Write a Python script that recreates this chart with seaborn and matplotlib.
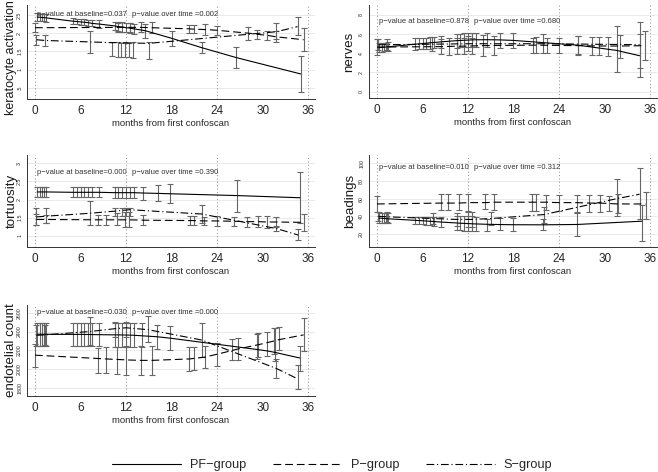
import numpy as np
import pandas as pd
import matplotlib
matplotlib.use("Agg")
import matplotlib.pyplot as plt
import seaborn as sns
from matplotlib.lines import Line2D

# ---------------- data (months, fitted value, CI low, CI high) ----------------
# keratocyte activation
ker_pf_t = [0.3, 0.6, 0.9, 1.2, 1.5, 5.0, 5.5, 6.0, 6.5, 7.0, 7.5, 8.5, 10.5, 11.0, 11.5, 12.0, 12.5, 13.0, 14.5, 18.0, 22.0, 26.5, 35.0]
ker_pf_fit = [2.44, 2.44, 2.43, 2.43, 2.42, 2.33, 2.32, 2.31, 2.30, 2.29, 2.27, 2.25, 2.20, 2.18, 2.17, 2.15, 2.14, 2.12, 2.07, 1.86, 1.60, 1.33, 0.88]
ker_pf_lo = [2.33, 2.34, 2.34, 2.33, 2.32, 2.25, 2.24, 2.23, 2.22, 2.21, 2.19, 2.15, 2.08, 2.05, 2.04, 2.02, 2.00, 1.98, 1.88, 1.66, 1.45, 1.05, 0.38]
ker_pf_hi = [2.55, 2.54, 2.52, 2.53, 2.52, 2.41, 2.40, 2.39, 2.38, 2.37, 2.35, 2.35, 2.32, 2.31, 2.30, 2.28, 2.28, 2.26, 2.26, 2.06, 1.75, 1.61, 1.38]
ker_p_t = [0.0, 11.0, 12.5, 14.0, 15.4, 20.3, 21.0, 22.4, 24.0, 28.1, 29.3, 30.6, 31.8, 35.4]
ker_p_fit = [2.15, 2.16, 2.16, 2.16, 2.15, 2.12, 2.11, 2.10, 2.08, 2.00, 1.97, 1.94, 1.90, 1.82]
ker_p_lo = [2.03, 2.04, 2.03, 2.02, 2.00, 2.01, 2.00, 1.95, 1.95, 1.82, 1.85, 1.80, 1.75, 1.50]
ker_p_hi = [2.27, 2.28, 2.29, 2.30, 2.30, 2.22, 2.22, 2.25, 2.21, 2.17, 2.10, 2.07, 2.06, 2.14]
ker_s_t = [0.2, 1.3, 7.2, 10.1, 10.9, 11.4, 11.9, 12.4, 12.9, 15.0, 31.8, 34.6]
ker_s_fit = [1.82, 1.80, 1.76, 1.74, 1.74, 1.73, 1.73, 1.73, 1.73, 1.72, 2.04, 2.18]
ker_s_lo = [1.68, 1.64, 1.46, 1.36, 1.35, 1.35, 1.35, 1.35, 1.32, 1.30, 1.85, 1.95]
ker_s_hi = [1.96, 1.95, 2.06, 1.75, 1.76, 1.74, 1.75, 1.74, 1.76, 1.75, 2.27, 2.44]

# nerves
ner_pf_t = [0.3, 0.6, 0.9, 1.2, 1.5, 5.0, 5.5, 6.0, 6.5, 7.0, 7.5, 8.5, 10.5, 11.0, 11.5, 12.0, 12.5, 13.0, 14.5, 16.2, 17.9, 26.5, 31.6, 34.6]
ner_pf_fit = [4.60, 4.62, 4.64, 4.66, 4.68, 4.95, 4.98, 5.02, 5.06, 5.10, 5.13, 5.20, 5.32, 5.34, 5.36, 5.38, 5.40, 5.41, 5.42, 5.40, 5.35, 4.85, 4.30, 3.75]
ner_pf_lo = [4.10, 4.15, 4.20, 4.20, 4.25, 4.35, 4.40, 4.45, 4.50, 4.50, 4.55, 4.55, 4.60, 4.62, 4.65, 4.65, 4.68, 4.70, 4.70, 4.60, 4.55, 3.90, 2.10, 1.50]
ner_pf_hi = [5.10, 5.10, 5.10, 5.10, 5.15, 5.55, 5.56, 5.60, 5.62, 5.70, 5.71, 5.85, 6.00, 6.05, 6.07, 6.10, 6.12, 6.12, 6.14, 6.15, 6.15, 5.80, 6.85, 6.00]
ner_p_t = [0.0, 8.5, 9.5, 10.5, 11.5, 12.5, 14.0, 15.4, 20.5, 21.0, 22.4, 24.0, 26.5, 28.3, 29.3, 30.4, 32.0, 35.3]
ner_p_fit = [4.65, 4.70, 4.72, 4.74, 4.75, 4.77, 4.80, 4.82, 4.85, 4.85, 4.84, 4.82, 4.80, 4.78, 4.77, 4.76, 4.76, 4.80]
ner_p_lo = [3.80, 3.90, 3.85, 3.90, 3.90, 3.95, 3.70, 3.85, 4.05, 4.00, 4.05, 4.00, 3.80, 3.85, 3.80, 3.75, 3.55, 3.30]
ner_p_hi = [5.50, 5.50, 5.60, 5.60, 5.60, 5.60, 5.90, 5.80, 5.65, 5.70, 5.60, 5.65, 5.80, 5.70, 5.75, 5.75, 5.95, 6.30]
ner_s_t = [0.2, 1.3, 7.2, 12.0, 21.9, 34.6]
ner_s_fit = [4.90, 4.90, 4.95, 5.00, 5.00, 4.90]
ner_s_lo = [4.30, 4.30, 4.20, 4.20, 4.00, 2.50]
ner_s_hi = [5.50, 5.50, 5.70, 5.80, 6.00, 7.30]

# tortuosity
tor_pf_t = [0.3, 0.6, 0.9, 1.2, 1.5, 5.0, 5.5, 6.0, 6.5, 7.0, 7.5, 8.5, 10.5, 11.0, 11.5, 12.0, 12.5, 13.0, 14.3, 16.2, 17.8, 26.6, 34.9]
tor_pf_fit = [2.21, 2.21, 2.21, 2.21, 2.21, 2.20, 2.20, 2.20, 2.20, 2.20, 2.20, 2.20, 2.19, 2.19, 2.19, 2.19, 2.19, 2.19, 2.18, 2.17, 2.16, 2.11, 2.05]
tor_pf_lo = [2.07, 2.07, 2.07, 2.07, 2.07, 2.07, 2.07, 2.07, 2.07, 2.07, 2.07, 2.07, 2.05, 2.05, 2.05, 2.05, 2.05, 2.05, 2.00, 1.95, 1.90, 1.66, 1.35]
tor_pf_hi = [2.35, 2.35, 2.35, 2.35, 2.35, 2.34, 2.34, 2.34, 2.34, 2.34, 2.34, 2.34, 2.35, 2.35, 2.35, 2.35, 2.35, 2.35, 2.36, 2.40, 2.42, 2.55, 2.75]
tor_p_t = [0.2, 1.4, 8.3, 9.4, 10.8, 11.8, 12.4, 14.3, 20.4, 20.9, 22.3, 24.0, 26.2, 28.0, 29.4, 30.6, 31.7, 35.4]
tor_p_fit = [1.45, 1.45, 1.44, 1.44, 1.44, 1.44, 1.44, 1.43, 1.42, 1.42, 1.41, 1.41, 1.40, 1.39, 1.39, 1.38, 1.38, 1.37]
tor_p_lo = [1.30, 1.35, 1.30, 1.30, 1.30, 1.25, 1.25, 1.30, 1.30, 1.30, 1.30, 1.27, 1.28, 1.25, 1.25, 1.22, 1.25, 1.12]
tor_p_hi = [1.60, 1.56, 1.58, 1.58, 1.62, 1.65, 1.65, 1.58, 1.55, 1.55, 1.53, 1.55, 1.53, 1.53, 1.55, 1.55, 1.52, 1.60]
tor_s_t = [0.2, 1.4, 7.2, 10.5, 11.5, 12.0, 12.5, 22.0, 31.8, 34.7]
tor_s_fit = [1.52, 1.54, 1.62, 1.68, 1.70, 1.71, 1.72, 1.60, 1.20, 1.02]
tor_s_lo = [1.30, 1.35, 1.30, 1.55, 1.55, 1.55, 1.55, 1.35, 1.12, 0.88]
tor_s_hi = [1.76, 1.78, 1.95, 1.76, 1.76, 1.76, 1.76, 1.85, 1.28, 1.18]

# beadings
bea_pf_t = [0.3, 0.6, 0.9, 1.2, 1.5, 5.0, 5.5, 6.0, 6.5, 7.0, 7.5, 8.5, 10.5, 11.0, 11.5, 12.0, 12.5, 13.0, 14.5, 16.2, 17.9, 21.9, 26.4, 34.9]
bea_pf_fit = [38.0, 37.8, 37.6, 37.4, 37.2, 35.5, 35.2, 35.0, 34.7, 34.4, 34.1, 33.5, 32.5, 32.2, 32.0, 31.8, 31.6, 31.4, 31.0, 30.7, 30.5, 30.4, 30.8, 34.5]
bea_pf_lo = [33, 32, 32, 32, 32, 31, 31, 31, 30, 30, 29, 28, 24, 24, 23, 23, 23, 23, 23, 24, 23, 24, 18, 12]
bea_pf_hi = [45, 44, 44, 44, 44, 39, 39, 39, 39, 39, 39, 39, 40, 40, 40, 40, 40, 39, 37, 38, 38, 37, 44, 53]
bea_p_t = [0.0, 8.5, 9.4, 10.8, 12.0, 14.3, 15.4, 20.4, 20.9, 22.3, 24.0, 26.4, 28.0, 29.4, 30.6, 31.7, 35.4]
bea_p_fit = [54.0, 55.0, 55.0, 55.0, 55.5, 55.5, 56.0, 56.0, 56.0, 56.0, 55.5, 55.5, 55.0, 55.0, 54.5, 54.0, 54.0]
bea_p_lo = [45, 47, 47, 47, 46, 48, 47, 46, 46, 47, 46, 45, 45, 45, 46, 44, 37]
bea_p_hi = [63, 65, 65, 65, 65, 65, 65, 65, 65, 64, 64, 64, 64, 64, 63, 65, 68]
bea_s_t = [0.2, 1.3, 7.4, 10.5, 12.0, 12.5, 15.0, 22.0, 31.6, 34.6]
bea_s_fit = [40.0, 39.5, 37.5, 36.5, 36.5, 36.5, 37.5, 42.0, 60.0, 65.0]
bea_s_lo = [35, 34, 31, 29, 28, 28, 30, 33, 40, 37]
bea_s_hi = [45, 45, 44, 44, 45, 45, 45, 51, 82, 95]

# endothelial count
end_pf_t = [0.3, 0.6, 0.9, 1.2, 1.5, 5.0, 5.5, 6.0, 6.5, 7.0, 7.5, 8.5, 10.5, 11.0, 11.5, 12.0, 12.5, 13.0, 14.1, 16.1, 17.8, 29.3, 30.6, 31.6, 34.9]
end_pf_fit = [2372, 2372, 2371, 2371, 2371, 2370, 2370, 2370, 2369, 2369, 2368, 2367, 2365, 2365, 2364, 2363, 2362, 2361, 2355, 2345, 2330, 2210, 2195, 2180, 2120]
end_pf_lo = [2250, 2250, 2250, 2250, 2250, 2250, 2250, 2250, 2250, 2250, 2250, 2250, 2240, 2240, 2240, 2240, 2240, 2240, 2240, 2220, 2200, 2110, 2140, 2090, 1980]
end_pf_hi = [2490, 2490, 2490, 2490, 2490, 2490, 2490, 2490, 2490, 2490, 2490, 2490, 2490, 2490, 2490, 2490, 2490, 2490, 2490, 2470, 2460, 2370, 2400, 2440, 2250]
end_p_t = [0.0, 8.3, 9.4, 10.8, 12.0, 14.0, 15.4, 20.3, 20.9, 22.4, 24.0, 26.0, 26.7, 29.4, 31.5, 32.2, 35.4]
end_p_fit = [2150, 2115, 2110, 2105, 2100, 2095, 2095, 2110, 2115, 2130, 2160, 2200, 2215, 2260, 2300, 2315, 2365]
end_p_lo = [2030, 1965, 1960, 1955, 1940, 1945, 1945, 1980, 1990, 2010, 2040, 2100, 2100, 2130, 2160, 2200, 2190]
end_p_hi = [2270, 2230, 2240, 2240, 2250, 2250, 2250, 2240, 2240, 2250, 2280, 2320, 2330, 2380, 2440, 2450, 2540]
end_s_t = [0.2, 1.3, 7.2, 10.5, 12.0, 14.9, 22.0, 31.8, 34.6]
end_s_fit = [2360, 2365, 2400, 2430, 2440, 2420, 2310, 2010, 1900]
end_s_lo = [2250, 2260, 2260, 2340, 2340, 2290, 2130, 1910, 1790]
end_s_hi = [2470, 2470, 2550, 2500, 2500, 2560, 2490, 2110, 2050]

groups = ["PF\u2212group", "P\u2212group", "S\u2212group"]
ylabels = ["keratocyte activation", "nerves", "tortuosity", "beadings", "endotelial count"]
pv_baseline = ["0.037", "0.878", "0.000", "0.010", "0.030"]
pv_time = ["0.002", "0.680", "0.390", "0.312", "0.000"]
ker_ticks, ker_ticklabels = [0.5, 1, 1.5, 2, 2.5], [".5", "1", "1.5", "2", "2.5"]
ner_ticks, ner_ticklabels = [0, 2, 4, 6, 8], ["0", "2", "4", "6", "8"]
tor_ticks, tor_ticklabels = [1, 1.5, 2, 2.5, 3], ["1", "1.5", "2", "2.5", "3"]
bea_ticks, bea_ticklabels = [20, 40, 60, 80, 100], ["20", "40", "60", "80", "100"]
end_ticks, end_ticklabels = [1800, 2000, 2200, 2400, 2600], ["1800", "2000", "2200", "2400", "2600"]
month_ticks = [0, 6, 12, 18, 24, 30, 36]

# ---------------- style ----------------
sns.set_theme(style="white")
plt.rcParams["font.family"] = ["Liberation Sans", "DejaVu Sans"]

LW = 0.8
dash_map = {groups[0]: "", groups[1]: (7, 3.5), groups[2]: (7, 2.5, 1, 2.5)}
W, H = 658, 472

# (ylabel, series, pixel rect l/t/r/b, ylim, ticks, ticklabels, y of p-value text,
#  ylabel size, ylabel y-pos, ylabel x offset in px)
panels = [
    (ylabels[0], [(ker_pf_t, ker_pf_fit, ker_pf_lo, ker_pf_hi), (ker_p_t, ker_p_fit, ker_p_lo, ker_p_hi), (ker_s_t, ker_s_fit, ker_s_lo, ker_s_hi)],
     (27, 5, 315, 99), (0.19, 2.775), ker_ticks, ker_ticklabels, 2.5, 9.0, 0.44, -10),
    (ylabels[1], [(ner_pf_t, ner_pf_fit, ner_pf_lo, ner_pf_hi), (ner_p_t, ner_p_fit, ner_p_lo, ner_p_hi), (ner_s_t, ner_s_fit, ner_s_lo, ner_s_hi)],
     (369, 5, 657, 98), (-0.66, 9.04), ner_ticks, ner_ticklabels, 7.27, 9.6, 0.5, -14),
    (ylabels[2], [(tor_pf_t, tor_pf_fit, tor_pf_lo, tor_pf_hi), (tor_p_t, tor_p_fit, tor_p_lo, tor_p_hi), (tor_s_t, tor_s_fit, tor_s_lo, tor_s_hi)],
     (27, 155, 315, 247), (0.69, 3.23), tor_ticks, tor_ticklabels, 2.76, 9.6, 0.5, -9),
    (ylabels[3], [(bea_pf_t, bea_pf_fit, bea_pf_lo, bea_pf_hi), (bea_p_t, bea_p_fit, bea_p_lo, bea_p_hi), (bea_s_t, bea_s_fit, bea_s_lo, bea_s_hi)],
     (369, 155, 657, 247), (5.3, 109.4), bea_ticks, bea_ticklabels, 95.8, 9.6, 0.5, -13),
    (ylabels[4], [(end_pf_t, end_pf_fit, end_pf_lo, end_pf_hi), (end_p_t, end_p_fit, end_p_lo, end_p_hi), (end_s_t, end_s_fit, end_s_lo, end_s_hi)],
     (27, 305, 315, 396), (1718, 2681), end_ticks, end_ticklabels, 2600, 9.6, 0.5, -10),
]

fig = plt.figure(figsize=(W / 100, H / 100), dpi=100)

for i, (ylab, series, rect, ylim, yt, ytl, pv_y, ylab_size, ylab_pos, ylab_dx) in enumerate(panels):
    l, t, r, b = rect
    ax = fig.add_axes([l / W, 1 - b / H, (r - l) / W, (b - t) / H])

    # grid + reference lines
    for v in yt:
        ax.axhline(v, color="#e6e6e6", lw=0.6, zorder=0)
    for v in [0, 12, 24, 36]:
        ax.axvline(v, color="0.55", lw=0.7, ls=(0, (1, 2.5)), zorder=0)

    frames = []
    for g, (tt, ff, lo, hi) in zip(groups, series):
        tt, ff, lo, hi = map(np.asarray, (tt, ff, lo, hi))
        ax.errorbar(tt, ff, yerr=[ff - lo, hi - ff], fmt="none", ecolor="0.4",
                    elinewidth=0.8, capsize=1.9, capthick=0.8, zorder=2)
        frames.append(pd.DataFrame({"month": tt, "fit": ff, "group": g}))
    df = pd.concat(frames, ignore_index=True)
    sns.lineplot(data=df, x="month", y="fit", style="group", style_order=groups,
                 dashes=dash_map, color="black", lw=LW, estimator=None, sort=True,
                 legend=False, ax=ax, zorder=3)

    ax.text(0.3, pv_y, "p\u2212value at baseline=" + pv_baseline[i], fontsize=5.5,
            ha="left", va="center", color="0.2", zorder=4)
    ax.text(12.75, pv_y, "p\u2212value over time =" + pv_time[i], fontsize=5.5,
            ha="left", va="center", color="0.2", zorder=4)

    ax.set_xlim(-1.05, 36.9)
    ax.set_ylim(*ylim)
    ax.set_xticks(month_ticks)
    ax.set_xticklabels([str(m) for m in month_ticks])
    ax.set_yticks(yt)
    ax.set_yticklabels(ytl, rotation=90, va="center")
    ax.tick_params(axis="x", direction="out", length=2.5, width=0.6, labelsize=8.5, pad=1.5, colors="0.15")
    ax.tick_params(axis="y", direction="out", length=2.5, width=0.6, labelsize=3.8, pad=1, colors="0.15")
    for s in ["top", "right"]:
        ax.spines[s].set_visible(False)
    for s in ["left", "bottom"]:
        ax.spines[s].set_color("0.2")
        ax.spines[s].set_linewidth(0.7)
    ax.set_xlabel("months from first confoscan", fontsize=6.8, labelpad=1.5, color="0.15")
    ax.set_ylabel(ylab, fontsize=ylab_size, color="0.1")
    ax.yaxis.set_label_coords(ylab_dx / (r - l), ylab_pos)
    ax.set_facecolor("white")

handles = [Line2D([0], [0], color="black", lw=LW, ls="-"),
           Line2D([0], [0], color="black", lw=LW, dashes=dash_map[groups[1]]),
           Line2D([0], [0], color="black", lw=LW, dashes=dash_map[groups[2]])]
fig.legend(handles, groups, loc="center", bbox_to_anchor=(332 / W, 1 - 465 / H), ncol=3,
           frameon=False, fontsize=9.2, handlelength=5.4, handletextpad=0.7, columnspacing=2.1)

fig.savefig("out.png", dpi=100, facecolor="white")
